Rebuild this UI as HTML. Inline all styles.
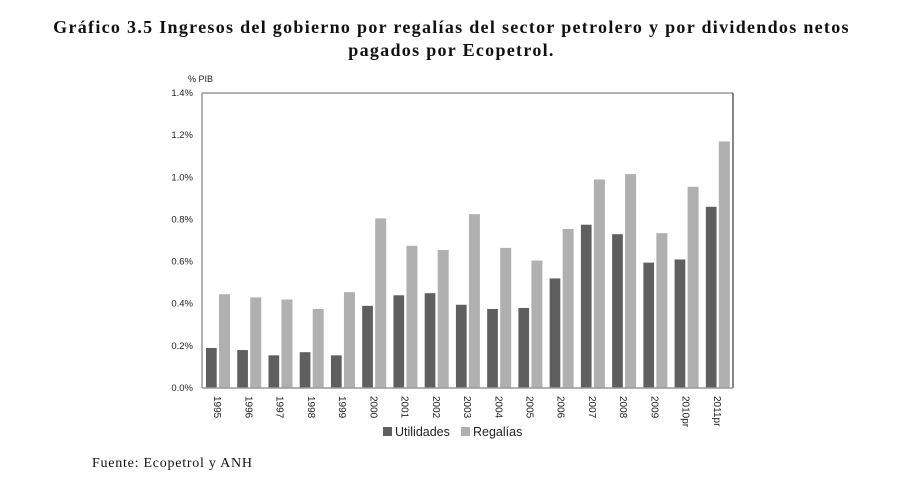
<!DOCTYPE html>
<html><head><meta charset="utf-8"><style>
body{margin:0;background:#fff;width:903px;height:480px;overflow:hidden;}
.t{position:absolute;left:0;width:903px;text-align:center;font-family:"Liberation Serif",serif;font-weight:bold;font-size:18px;letter-spacing:1.3px;color:#111;}
</style></head><body>
<div class="t" style="top:17px">Gráfico 3.5 Ingresos del gobierno por regalías del sector petrolero y por dividendos netos</div>
<div class="t" style="top:40px">pagados por Ecopetrol.</div>
<div style="position:absolute;left:92px;top:456px;font-family:'Liberation Serif',serif;font-size:14px;letter-spacing:0.75px;color:#111">Fuente: Ecopetrol y ANH</div>
<svg id="s" width="903" height="480" style="position:absolute;left:0;top:0" font-family="Liberation Sans, sans-serif">
<text x="188" y="82" font-size="9" fill="#222">% PIB</text>
<line x1="202" y1="93" x2="733" y2="93" stroke="#999" stroke-width="1.5"/>
<line x1="733" y1="93" x2="733" y2="388" stroke="#111" stroke-width="1"/>
<line x1="202" y1="93" x2="202" y2="388" stroke="#999" stroke-width="1.5"/>
<g id="g"></g>
<line x1="202" y1="388" x2="733" y2="388" stroke="#999" stroke-width="1.5"/>
<rect x="383" y="427" width="9" height="9" fill="#5f5f5f"/>
<text x="395" y="436" font-size="12.5" fill="#222">Utilidades</text>
<rect x="461" y="427" width="9" height="9" fill="#b0b0b0"/>
<text x="473" y="436" font-size="12.5" fill="#222">Regalías</text>
</svg>
<script>
var u=[0.19,0.18,0.155,0.17,0.155,0.39,0.44,0.45,0.395,0.375,0.38,0.52,0.775,0.73,0.595,0.61,0.86];
var r=[0.445,0.43,0.42,0.375,0.455,0.805,0.675,0.655,0.825,0.665,0.605,0.755,0.99,1.015,0.735,0.955,1.17];
var yr=["1995","1996","1997","1998","1999","2000","2001","2002","2003","2004","2005","2006","2007","2008","2009","2010pr","2011pr"];
var h="";var k=210.7;
for(var i=0;i<=7;i++){var y=388-i*0.2*k;h+='<text x="193" y="'+(y+3)+'" font-size="9.5" text-anchor="end" fill="#222">'+(i*0.2).toFixed(1)+'%</text>';}
for(var i=0;i<17;i++){var s=202+31.24*i;
h+='<rect x="'+(s+4)+'" y="'+(388-u[i]*k)+'" width="10.7" height="'+(u[i]*k)+'" fill="#5f5f5f"/>';
h+='<rect x="'+(s+17)+'" y="'+(388-r[i]*k)+'" width="11" height="'+(r[i]*k)+'" fill="#b0b0b0"/>';
var cx=s+15.6;
h+='<text transform="translate('+(cx-3.5)+',396) rotate(90)" font-size="10" fill="#222">'+yr[i]+'</text>';}
document.getElementById("g").innerHTML=h;
</script>
</body></html>
